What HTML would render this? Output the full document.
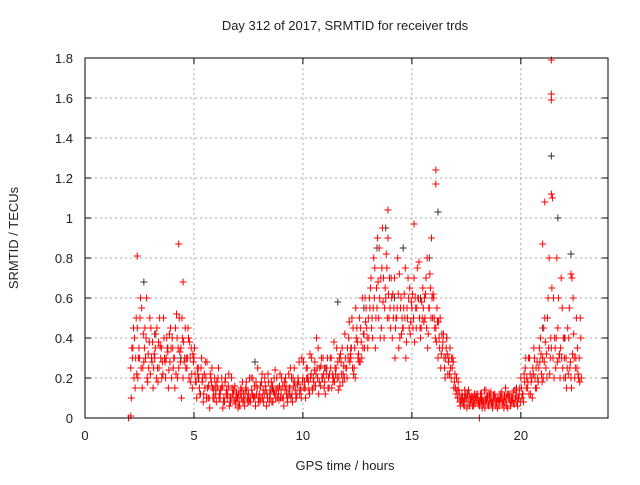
<!DOCTYPE html>
<html><head><meta charset="utf-8"><style>
body{margin:0;background:#fff;}
svg text{font-family:"Liberation Sans",sans-serif;font-size:13px;fill:#222;}
</style></head><body>
<svg id="chart" width="640" height="480" xmlns="http://www.w3.org/2000/svg">
<rect width="640" height="480" fill="#fff"/>
<text x="345" y="30" text-anchor="middle">Day 312 of 2017, SRMTID for receiver trds</text>
<text x="345" y="470" text-anchor="middle">GPS time / hours</text>
<text transform="translate(18,238) rotate(-90)" text-anchor="middle">SRMTID / TECUs</text>
<g id="grid"></g>
<g id="axes"></g>
<g id="marks"></g>
<rect x="85" y="58" width="523" height="360" fill="none" stroke="#000" stroke-width="1"/>
</svg>
<script>
const xTicks=[0,5,10,15,20];
const yTicks=[0,0.2,0.4,0.6,0.8,1,1.2,1.4,1.6,1.8];
const yTickLabels=["0","0.2","0.4","0.6","0.8","1","1.2","1.4","1.6","1.8"];
const seriesStart=2.1, seriesStep=0.1;
const redA=[0.25,0.35,0.15,0.45,0.3,0.55,0.28,0.4,0.32,
0.22,0.38,0.3,0.45,0.25,0.35,0.5,0.2,0.33,0.28,
0.4,0.3,0.52,0.25,0.35,0.2,0.45,0.3,0.38,0.22,
0.3,0.18,0.25,0.12,0.2,0.15,0.28,0.1,0.18,0.14,
0.12,0.2,0.1,0.16,0.08,0.14,0.22,0.1,0.12,0.07,
0.1,0.06,0.14,0.09,0.18,0.12,0.08,0.2,0.1,0.15,
0.12,0.18,0.08,0.14,0.22,0.1,0.16,0.12,0.2,0.09,
0.14,0.1,0.2,0.08,0.15,0.12,0.25,0.1,0.18,0.14,
0.2,0.15,0.25,0.12,0.3,0.18,0.22,0.35,0.16,0.2,
0.18,0.25,0.15,0.3,0.2,0.22,0.28,0.16,0.35,0.2,
0.25,0.4,0.3,0.45,0.2,0.38,0.5,0.3,0.42,0.55,
0.5,0.65,0.4,0.75,0.55,0.85,0.45,0.7,0.6,0.9,
0.55,0.4,0.7,0.5,0.35,0.6,0.45,0.75,0.5,0.65,
0.55,0.7,0.45,0.6,0.4,0.65,0.5,0.8,0.55,0.9,
0.6,0.45,0.3,0.5,0.35,0.25,0.4,0.3,0.2,0.28,
0.15,0.1,0.08,0.12,0.06,0.1,0.14,0.08,0.1,0.07,
0.1,0.06,0.12,0.08,0.14,0.07,0.1,0.05,0.12,0.08,
0.06,0.1,0.08,0.15,0.05,0.12,0.09,0.07,0.14,0.1,
0.2,0.12,0.25,0.15,0.3,0.2,0.35,0.25,0.18,0.4,
0.3,0.5,0.2,0.8,0.35,0.6,0.25,0.45,0.2,0.55,
0.3,0.15,0.4,0.2,0.6,0.25,0.35,0.18];
const redB=[0.35,0.2,0.5,0.3,0.6,0.25,0.45,0.2,0.38,
0.3,0.25,0.42,0.18,0.36,0.28,0.3,0.4,0.24,0.35,
0.25,0.45,0.2,0.33,0.5,0.28,0.3,0.4,0.18,0.32,
0.22,0.25,0.15,0.3,0.12,0.2,0.1,0.22,0.15,0.2,
0.18,0.1,0.15,0.08,0.2,0.12,0.1,0.15,0.09,0.13,
0.12,0.15,0.08,0.12,0.1,0.2,0.14,0.11,0.18,0.08,
0.16,0.1,0.2,0.12,0.08,0.18,0.13,0.1,0.15,0.22,
0.1,0.18,0.12,0.22,0.1,0.2,0.14,0.17,0.12,0.3,
0.15,0.25,0.18,0.2,0.14,0.28,0.25,0.18,0.3,0.22,
0.25,0.15,0.3,0.22,0.18,0.35,0.2,0.28,0.22,0.3,
0.35,0.28,0.5,0.25,0.4,0.32,0.45,0.35,0.6,0.4,
0.6,0.45,0.8,0.5,0.68,0.4,0.95,0.55,0.75,0.5,
0.7,0.5,0.45,0.8,0.4,0.5,0.62,0.38,0.6,0.48,
0.45,0.6,0.75,0.5,0.58,0.48,0.7,0.42,0.65,0.5,
0.45,0.55,0.4,0.32,0.42,0.3,0.22,0.35,0.25,0.18,
0.2,0.14,0.1,0.07,0.1,0.12,0.06,0.11,0.09,0.12,
0.07,0.12,0.09,0.05,0.1,0.12,0.08,0.11,0.06,0.1,
0.12,0.07,0.11,0.06,0.1,0.08,0.13,0.1,0.06,0.15,
0.1,0.22,0.15,0.3,0.12,0.25,0.2,0.28,0.35,0.22,
0.45,0.25,0.6,0.3,1.1,0.4,0.8,0.3,0.7,0.4,
0.2,0.45,0.25,0.7,0.3,0.5,0.2,0.4];
const redC=[0.1,0.45,0.3,0.2,0.5,0.15,0.35,0.6,0.25,
0.45,0.15,0.35,0.25,0.5,0.2,0.4,0.3,0.15,0.45,
0.35,0.15,0.4,0.5,0.1,0.38,0.25,0.45,0.3,0.15,
0.35,0.1,0.2,0.25,0.08,0.28,0.15,0.05,0.25,0.1,
0.08,0.25,0.14,0.05,0.18,0.1,0.06,0.2,0.14,0.1,
0.05,0.12,0.18,0.06,0.14,0.08,0.2,0.1,0.06,0.25,
0.08,0.22,0.12,0.06,0.18,0.14,0.08,0.24,0.1,0.16,
0.2,0.06,0.16,0.12,0.25,0.08,0.18,0.12,0.28,0.1,
0.28,0.1,0.2,0.32,0.15,0.24,0.4,0.12,0.26,0.3,
0.12,0.3,0.22,0.15,0.38,0.25,0.14,0.32,0.18,0.42,
0.2,0.48,0.35,0.22,0.55,0.3,0.28,0.6,0.35,0.45,
0.4,0.7,0.55,0.35,0.9,0.6,0.75,0.4,0.82,0.62,
0.45,0.62,0.3,0.55,0.72,0.42,0.55,0.3,0.7,0.42,
0.62,0.38,0.55,0.78,0.45,0.55,0.62,0.35,0.72,0.6,
0.5,0.38,0.48,0.25,0.38,0.2,0.32,0.22,0.3,0.15,
0.12,0.18,0.06,0.1,0.14,0.05,0.12,0.09,0.06,0.1,
0.12,0.08,0.05,0.14,0.09,0.06,0.13,0.08,0.1,0.05,
0.09,0.13,0.05,0.1,0.12,0.06,0.1,0.14,0.08,0.12,
0.15,0.08,0.3,0.18,0.22,0.1,0.3,0.15,0.25,0.32,
0.2,0.38,0.5,0.22,0.65,0.2,0.4,0.6,0.35,0.25,
0.4,0.25,0.55,0.15,0.42,0.3,0.22,0.5];
const redD=[0.3,0.4,0.22,0.35,0.25,0.42,0.3,0.18,0.5,
0.28,0.32,0.2,0.38,0.3,0.22,0.28,0.35,0.42,0.2,
0.3,0.22,0.35,0.28,0.4,0.3,0.25,0.2,0.35,0.28,
0.18,0.22,0.12,0.18,0.22,0.1,0.16,0.2,0.1,0.16,
0.15,0.12,0.2,0.1,0.12,0.16,0.08,0.12,0.16,0.1,
0.08,0.1,0.12,0.15,0.08,0.1,0.12,0.16,0.12,0.1,
0.1,0.14,0.16,0.1,0.12,0.08,0.2,0.14,0.12,0.1,
0.16,0.14,0.1,0.15,0.2,0.16,0.1,0.2,0.15,0.18,
0.18,0.2,0.14,0.22,0.2,0.16,0.2,0.25,0.2,0.15,
0.22,0.2,0.25,0.18,0.25,0.2,0.3,0.22,0.26,0.25,
0.3,0.32,0.25,0.35,0.45,0.28,0.38,0.42,0.48,0.35,
0.55,0.5,0.6,0.65,0.5,0.7,0.58,0.65,0.5,0.7,
0.6,0.55,0.5,0.62,0.55,0.45,0.5,0.55,0.45,0.58,
0.5,0.55,0.6,0.45,0.5,0.6,0.45,0.55,0.5,0.62,
0.4,0.48,0.35,0.42,0.3,0.35,0.28,0.25,0.3,0.22,
0.14,0.12,0.09,0.08,0.12,0.08,0.1,0.06,0.12,0.09,
0.09,0.1,0.07,0.09,0.11,0.09,0.07,0.1,0.08,0.09,
0.1,0.09,0.08,0.12,0.09,0.1,0.07,0.11,0.1,0.08,
0.12,0.18,0.2,0.12,0.18,0.22,0.15,0.2,0.28,0.18,
0.28,0.32,0.35,0.4,0.3,0.35,0.28,0.32,0.3,0.2,
0.3,0.22,0.28,0.32,0.2,0.25,0.3,0.2];
const outlierT=[2.4,4.3,4.5,13.9,15.1,16.1,16.1,21.4,21.4,21.4,21.4,21.1,21.0,22.3,2.0,2.1,18.1];
const outlierV=[0.81,0.87,0.68,1.04,0.97,1.24,1.17,1.79,1.62,1.59,1.12,1.08,0.87,0.72,0.0,0.01,0.0];
const grayT=[2.7,3.2,3.8,4.4,5.2,6.0,7.0,7.8,8.6,9.4,10.2,11.0,11.6,12.2,12.8,13.4,13.8,14.2,14.6,15.0,15.4,15.8,16.2,16.6,17.4,18.2,19.0,19.8,20.4,21.0,21.4,21.7,22.0,22.3];
const grayV=[0.68,0.42,0.35,0.3,0.2,0.12,0.1,0.28,0.15,0.12,0.2,0.25,0.58,0.35,0.55,0.85,0.95,0.6,0.85,0.55,0.6,0.8,1.03,0.4,0.1,0.09,0.08,0.15,0.3,0.45,1.31,1.0,0.4,0.82];

const NS="http://www.w3.org/2000/svg";
const X0=85,X1=608,Y0=418,Y1=58,XMAX=24,YMAX=1.8;
function xs(t){return X0+(X1-X0)*t/XMAX;}
function ys(v){return Y0-(Y0-Y1)*v/YMAX;}
function mk(tag,attrs,parent){const e=document.createElementNS(NS,tag);for(const k in attrs)e.setAttribute(k,attrs[k]);parent.appendChild(e);return e;}
const grid=document.getElementById('grid'),axes=document.getElementById('axes'),marks=document.getElementById('marks');
yTicks.forEach((v,i)=>{
  const y=ys(v);
  if(i>0&&i<yTicks.length-1){const g=mk('line',{x1:X0,x2:X1,y1:y,y2:y,stroke:'#aaa','stroke-dasharray':'2,3'},grid);
  
  }
  const t=mk('line',{x1:X0,x2:X0+6,y1:y,y2:y,stroke:'#000'},axes);
  
  
  const t2=mk('line',{x1:X1-6,x2:X1,y1:y,y2:y,stroke:'#000'},axes);
  
  
  const l=mk('text',{x:X0-12,y:y+5,'text-anchor':'end'},axes);l.textContent=yTickLabels[i];
  
  
});
xTicks.forEach((t,i)=>{
  const x=xs(t);
  if(i>0){const g=mk('line',{x1:x,x2:x,y1:Y1,y2:Y0,stroke:'#aaa','stroke-dasharray':'2,3'},grid);
  
  }
  const tk=mk('line',{x1:x,x2:x,y1:Y0,y2:Y0-6,stroke:'#000'},axes);
  
  
  const tk2=mk('line',{x1:x,x2:x,y1:Y1,y2:Y1+6,stroke:'#000'},axes);
  
  
  const l=mk('text',{x:x,y:Y0+22,'text-anchor':'middle'},axes);l.textContent=String(t);
  
  
});
function plus(t,v,color,name){
  const x=xs(t),y=ys(v);
  const p=mk('path',{d:`M${x-3.5},${y}h7M${x},${y-3.5}v7`,stroke:color,'stroke-width':1,fill:'none'},marks);
  
  
}
grayT.forEach((t,i)=>plus(t,grayV[i],'#333','gray-point'));
redA.forEach((v,i)=>plus(seriesStart+i*seriesStep,v,'#f00','red-point'));
redB.forEach((v,i)=>plus(seriesStart+i*seriesStep+0.05,v,'#f00','red-point'));
redC.forEach((v,i)=>plus(seriesStart+i*seriesStep+0.025,v,'#f00','red-point'));
redD.forEach((v,i)=>plus(seriesStart+i*seriesStep+0.075,v,'#f00','red-point'));
outlierT.forEach((t,i)=>plus(t,outlierV[i],'#f00','red-outlier-point'));
</script>
</body></html>
